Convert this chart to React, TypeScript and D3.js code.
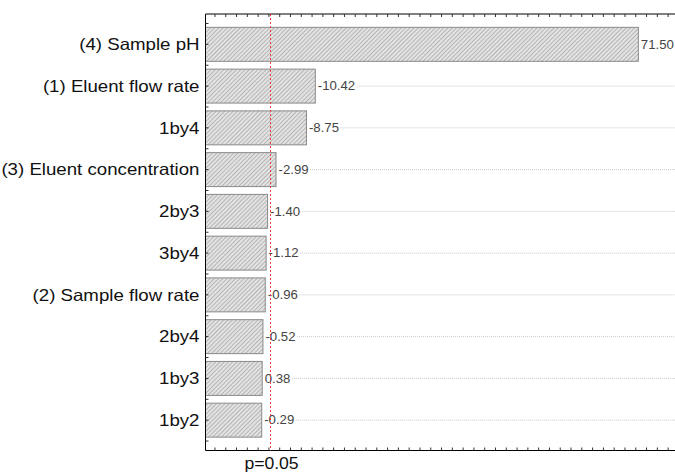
import * as d3 from "d3";
import { useMemo } from "react";

// effects in Pareto order (standardized effect estimates, signed)
const effects = [
  "(4) Sample pH",
  "(1) Eluent flow rate",
  "1by4",
  "(3) Eluent concentration",
  "2by3",
  "3by4",
  "(2) Sample flow rate",
  "2by4",
  "1by3",
  "1by2",
];
const estimates = [71.5, -10.42, -8.75, -2.99, -1.4, -1.12, -0.96, -0.52, 0.38, -0.29];
const pCritical = 1.95;
const pLabel = "p=0.05";

const width = 675;
const height = 473;
const frameLeft = 205.5;
const frameTop = 14;
const frameBottom = 450.5;
const stretch = 1.1; // the original text is a little wider than Arial
const labelStretch = 1.145;

export default function App() {
  const x = d3.scaleLinear().domain([-10.34, 82]).range([frameLeft, frameLeft + 5.289 * 92.34]);
  const y = d3
    .scaleBand<string>()
    .domain(effects)
    .range([frameTop, frameBottom])
    .paddingInner(0.187)
    .paddingOuter(0.32);

  const step = y.step();
  const bw = y.bandwidth();

  // tick marks along the top and bottom frame
  const xTicks = d3.range(-8.55, 80, 2.04);
  // left ticks at each effect and between effects
  const yTicks = d3.range(0, effects.length * 2 + 1).map(
    (i) => (y(effects[0]) as number) + bw / 2 - step / 2 + (i * step) / 2
  );

  const measure = useMemo(() => {
    const ctx = document.createElement("canvas").getContext("2d");
    if (ctx) ctx.font = "12px 'Liberation Sans', Arial, sans-serif";
    return (s: string) => (ctx ? ctx.measureText(s).width : s.length * 6.5) * stretch;
  }, []);

  const fmt = (v: number) => d3.format(".2f")(v).replace("\u2212", "-");

  return (
    <svg
      width={width}
      height={height}
      style={{ position: "absolute", left: 0, top: 0, background: "#fff" }}
      fontFamily="'Liberation Sans', Arial, sans-serif"
    >
      <defs>
        <pattern id="hatch" width={3} height={3} patternUnits="userSpaceOnUse" patternTransform="rotate(45)">
          <rect width={3} height={3} fill="#e3e3e3" />
          <line x1={0} y1={0} x2={0} y2={3} stroke="#8f8f8f" strokeWidth={1.1} />
        </pattern>
      </defs>

      {/* gridlines after value labels */}
      {effects.map((e, i) => {
        const start = x(Math.abs(estimates[i])) + 3 + measure(fmt(estimates[i])) + 1;
        const cy = (y(e) as number) + bw / 2;
        return (
          <line
            key={"g" + e}
            x1={start}
            x2={width}
            y1={cy}
            y2={cy}
            stroke="#c8c8c8"
            strokeWidth={1}
            strokeDasharray="1,1"
          />
        );
      })}

      {/* bars */}
      {effects.map((e, i) => (
        <rect
          key={"b" + e}
          x={x.range()[0]}
          y={y(e)}
          width={x(Math.abs(estimates[i])) - x.range()[0]}
          height={bw}
          fill="url(#hatch)"
          stroke="#8a8a8a"
          strokeWidth={1}
        />
      ))}

      {/* value labels */}
      {effects.map((e, i) => (
        <text
          key={"v" + e}
          transform={`translate(${x(Math.abs(estimates[i])) + 2.5},${(y(e) as number) + bw / 2}) scale(${stretch},1)`}
          dy="0.35em"
          fontSize={12}
          fill="#444"
        >
          {fmt(estimates[i])}
        </text>
      ))}

      {/* category labels */}
      {effects.map((e) => (
        <text
          key={"l" + e}
          transform={`translate(${frameLeft - 6},${(y(e) as number) + bw / 2}) scale(${labelStretch},1)`}
          dy="0.35em"
          textAnchor="end"
          fontSize={16.3}
          fill="#111"
        >
          {e}
        </text>
      ))}

      {/* frame */}
      <path
        d={`M${width + 5},${frameTop}H${frameLeft}V${frameBottom}H${width + 5}`}
        fill="none"
        stroke="#000"
        strokeWidth={1}
      />
      {xTicks.map((t) => (
        <g key={"t" + t}>
          <line x1={x(t)} x2={x(t)} y1={frameTop} y2={frameTop + 3} stroke="#333" />
          <line x1={x(t)} x2={x(t)} y1={frameBottom} y2={frameBottom - 3} stroke="#333" />
        </g>
      ))}
      {yTicks.map((t, i) => (
        <line key={"y" + i} x1={frameLeft} x2={frameLeft + 3} y1={t} y2={t} stroke="#333" />
      ))}

      {/* significance line */}
      <line
        x1={x(pCritical)}
        x2={x(pCritical)}
        y1={frameTop}
        y2={frameBottom}
        stroke="#f23a3a"
        strokeWidth={1}
        strokeDasharray="2,2"
      />
      <text
        transform={`translate(${x(pCritical) + 1},469) scale(${stretch},1)`}
        textAnchor="middle"
        fontSize={16}
        fill="#111"
      >
        {pLabel}
      </text>
    </svg>
  );
}
